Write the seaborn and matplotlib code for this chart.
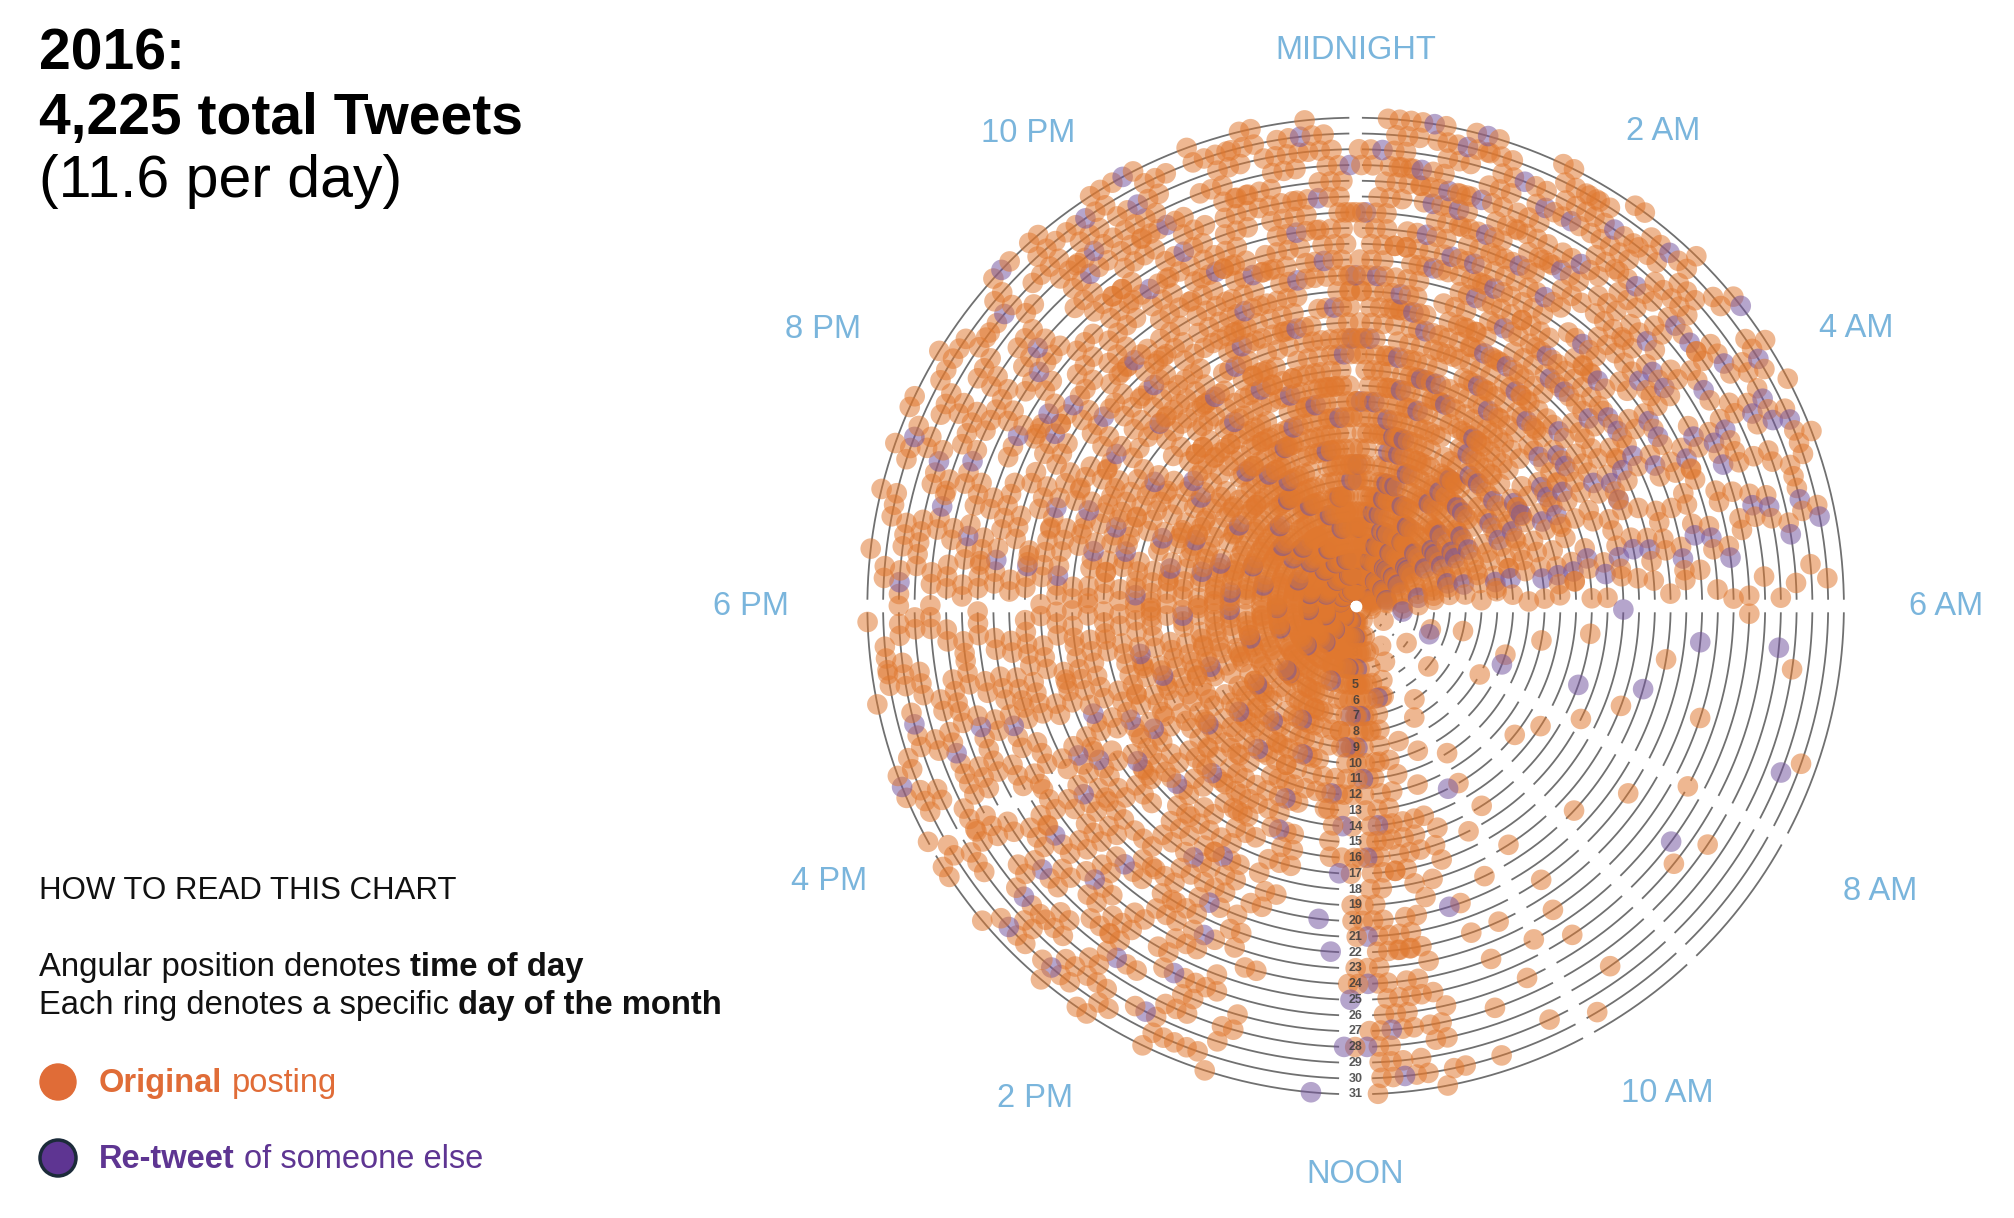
import numpy as np
import pandas as pd
import matplotlib
matplotlib.use("Agg")
import matplotlib.pyplot as plt
import seaborn as sns
from matplotlib.patches import Circle

sns.set_theme(style="white")
plt.rcParams["font.family"] = ["Liberation Sans", "DejaVu Sans"]

# original tweets per half hour (48 slots from midnight), one string per
# day-of-month ring; groups of six slots = three hours
days = list(range(1, 32))
original = [
    "434343 322211 010000 001012 223232 323223 232332 334343",
    "343434 232121 000100 000112 322323 232332 323233 343343",
    "443334 322111 100000 010023 232323 332323 233322 434333",
    "354343 232211 000010 001012 323232 323232 322323 334434",
    "434254 322221 001000 000123 322232 232423 323332 435343",
    "343443 232121 000001 000122 222323 323232 232423 343434",
    "453434 322211 010000 010013 213232 232332 323242 434354",
    "344353 232221 000000 001023 222323 323223 332323 353434",
    "435343 322121 000100 000112 312232 232332 323233 434343",
    "343454 232211 001000 001022 213323 323232 233232 344343",
    "454334 322221 000000 010013 222232 232323 323323 435343",
    "343443 232211 010000 000122 312323 323232 232332 343434",
    "434353 322121 000001 001012 213232 232423 323233 434343",
    "353434 232221 000010 000123 202323 323232 332323 343454",
    "444343 322121 100000 010124 103232 232332 233232 434343",
    "343534 232211 000100 001134 202323 323223 323323 353434",
    "435343 322221 000000 000123 103232 232332 232423 434343",
    "343443 232211 001000 010112 001323 323232 323232 344343",
    "454334 322121 000001 001013 002232 232323 332323 435334",
    "343453 232221 010000 000124 002323 323232 233232 343443",
    "434343 322121 000010 010023 001232 232423 323323 434343",
    "353434 232211 000000 001134 002323 323232 232332 343434",
    "444343 322221 001000 010013 001232 232332 323233 435343",
    "343534 232211 000100 001124 002323 323223 332323 343443",
    "435343 322121 100000 010023 001232 232332 233232 434343",
    "343443 232221 000001 001013 002323 323232 323323 343434",
    "454334 322121 000010 000124 001232 232423 232423 435343",
    "343453 232211 010000 010023 002323 323232 323232 344334",
    "434343 322221 000000 001013 001232 232332 332323 434343",
    "353434 232211 001000 010124 002323 323223 233232 343434",
    "232221 111100 000000 000011 001121 121211 111212 222121",
]
# re-tweets per hour (24 slots from midnight)
retweet = [
    "111210 000000 010100 101011",
    "201101 000000 101010 010102",
    "112110 100000 001001 100111",
    "011201 000001 100100 011010",
    "121110 010000 010011 001101",
    "201211 000001 001100 101010",
    "110121 000001 100010 010111",
    "021110 000000 010101 100101",
    "111201 000001 101000 011010",
    "201111 010000 010110 100101",
    "112110 000001 001001 010110",
    "101211 000000 100100 101011",
    "211011 000010 010010 011001",
    "110211 000001 101001 100110",
    "021111 010000 010100 101010",
    "111201 000001 001010 010101",
    "201111 100000 100100 101010",
    "111021 000000 010010 011011",
    "102111 010000 001100 100101",
    "111210 000010 100010 011010",
    "210111 000001 010100 100101",
    "111201 100000 101000 011011",
    "021111 000000 010010 101010",
    "110211 000001 001100 010101",
    "111120 001000 100010 101010",
    "201111 000000 010100 011001",
    "111201 100001 001010 100110",
    "120111 000001 100100 010101",
    "111021 010000 010010 101010",
    "101111 000001 001100 010101",
    "110100 000000 100010 001010",
]
label_hours = [0, 2, 4, 6, 8, 10, 12, 14, 16, 18, 20, 22]
hour_labels = ["MIDNIGHT", "2 AM", "4 AM", "6 AM", "8 AM", "10 AM",
               "NOON", "2 PM", "4 PM", "6 PM", "8 PM", "10 PM"]

ORANGE = "#e0782f"
PURPLE = "#74559f"
BLUE = "#7ab5dc"

# layout table: where a cluster sits inside its half hour slot
offsets = [0.1, -0.3, 0.25, -0.05, 0.4, -0.2, 0.15, -0.35, 0.3, -0.1, 0.05,
           0.35, -0.25, 0.2, -0.4, 0.0, 0.3, -0.15, 0.1, -0.3, 0.4, -0.05,
           0.2, -0.35, 0.15, -0.2, 0.35, -0.1, 0.25, -0.3, 0.05]
SLOT = 2 * np.pi / 48

rows = []
for day, o_row, p_row in zip(days, original, retweet):
    o = [int(c) for c in o_row.replace(" ", "")]
    p = [int(c) for c in p_row.replace(" ", "")]
    pur = [0] * 48
    for h in range(24):
        pur[2 * h + (0 if o[2 * h] >= o[2 * h + 1] else 1)] = p[h]
    for s in range(48):
        n = o[s] + pur[s]
        if n == 0:
            continue
        step = min(0.75 / day, SLOT / n)
        ph = offsets[(day * 5 + s * 7) % len(offsets)]
        centre = (s + 0.5 + ph) * SLOT
        purple_idx = {int((j + 0.5) * n / pur[s]) for j in range(pur[s])} if pur[s] else set()
        for k in range(n):
            th = centre + (k - (n - 1) / 2) * step
            kind = "Re-tweet" if k in purple_idx else "Original"
            rows.append((th % (2 * np.pi), day, kind))
df = pd.DataFrame(rows, columns=["theta", "day", "kind"])

W, H = 2014, 1218
fig = plt.figure(figsize=(W / 100, H / 100), dpi=100)
fig.patch.set_facecolor("white")

# left text panel in pixel coordinates
ov = fig.add_axes([0, 0, 1, 1])
ov.set_xlim(0, W)
ov.set_ylim(H, 0)
ov.axis("off")

renderer = fig.canvas.get_renderer()


def rich(x, y, parts, size):
    space = 0.28 * size * 100 / 72
    for txt, weight, color in parts:
        t = ov.text(x, y, txt, fontsize=size, fontweight=weight, color=color,
                    ha="left", va="baseline")
        x += t.get_window_extent(renderer).width + space


rich(39, 69, [("2016:", "bold", "black")], 41)
rich(39, 134, [("4,225 total Tweets", "bold", "black")], 41)
rich(39, 197, [("(11.6 per day)", "normal", "black")], 42.5)
rich(39, 899, [("HOW TO READ THIS CHART", "normal", "#111111")], 22.5)
rich(39, 976, [("Angular position denotes", "normal", "#111111"),
               ("time of day", "bold", "#111111")], 23.7)
rich(39, 1014, [("Each ring denotes a specific", "normal", "#111111"),
                ("day of the month", "bold", "#111111")], 23.6)
ov.add_patch(Circle((58, 1082), 18, color="#e06c37"))
rich(99, 1092, [("Original", "bold", "#e06c37"), ("posting", "normal", "#e06c37")], 23.5)
ov.add_patch(Circle((58, 1158), 18, facecolor="#5e3592", edgecolor="#1c2b3a", lw=2.5))
rich(99, 1168, [("Re-tweet", "bold", "#5e3592"), ("of someone else", "normal", "#5e3592")], 23.5)

# polar chart
ax = fig.add_axes([0.4150, 0.0757, 0.5162, 0.8535], projection="polar")
ax.set_theta_zero_location("N")
ax.set_theta_direction(-1)
ax.set_ylim(0, 33)
ax.grid(False)
ax.set_xticks([])
ax.set_yticks([])
ax.spines["polar"].set_visible(False)
ax.patch.set_alpha(0)

gap_hours = [0, 6, 7.9, 9.1, 10.1, 16, 18]
for d in days:
    gaps = [(h / 24 * 2 * np.pi, 0.4 / d) for h in gap_hours] + [(np.pi, min(1.05 / d, 0.6))]
    gaps.sort()
    for i, (c, hw) in enumerate(gaps):
        c2, hw2 = gaps[(i + 1) % len(gaps)]
        if i == len(gaps) - 1:
            c2 += 2 * np.pi
        th = np.linspace(c + hw, c2 - hw2, 200)
        ax.plot(th, np.full_like(th, d), color="#707070", lw=1.3, zorder=1,
                solid_capstyle="butt")

sns.scatterplot(data=df, x="theta", y="day", hue="kind",
                palette={"Original": ORANGE, "Re-tweet": PURPLE},
                s=220, alpha=0.53, linewidth=0, legend=False, ax=ax, zorder=3)
ax.scatter([0], [0], s=55, color="white", zorder=5)
ax.set_xlabel("")
ax.set_ylabel("")

# ring numbers along the noon ray (the innermost ones sit under the dots)
for d in days:
    ax.text(np.pi, d, str(d), ha="center", va="center", fontsize=9,
            fontweight="bold", color="#3a3a3a", alpha=0.85,
            zorder=2 if d < 5 else 4)

# label angle (degrees clockwise from midnight) and radius
label_theta = [0, 33, 61, 90, 118.6, 147.4, 180, 213.1, 242.4, 270, 297.4, 325.3]
label_r = [35.3, 35.9, 36.3, 37.5, 37.9, 36.7, 36.1, 37.3, 37.7, 38.4, 38.1, 36.5]
for lab, tdeg, r in zip(hour_labels, label_theta, label_r):
    ax.text(np.deg2rad(tdeg), r, lab, ha="center", va="center", fontsize=23.5,
            color=BLUE, clip_on=False)

fig.savefig("out.png", dpi=100, facecolor="white")
